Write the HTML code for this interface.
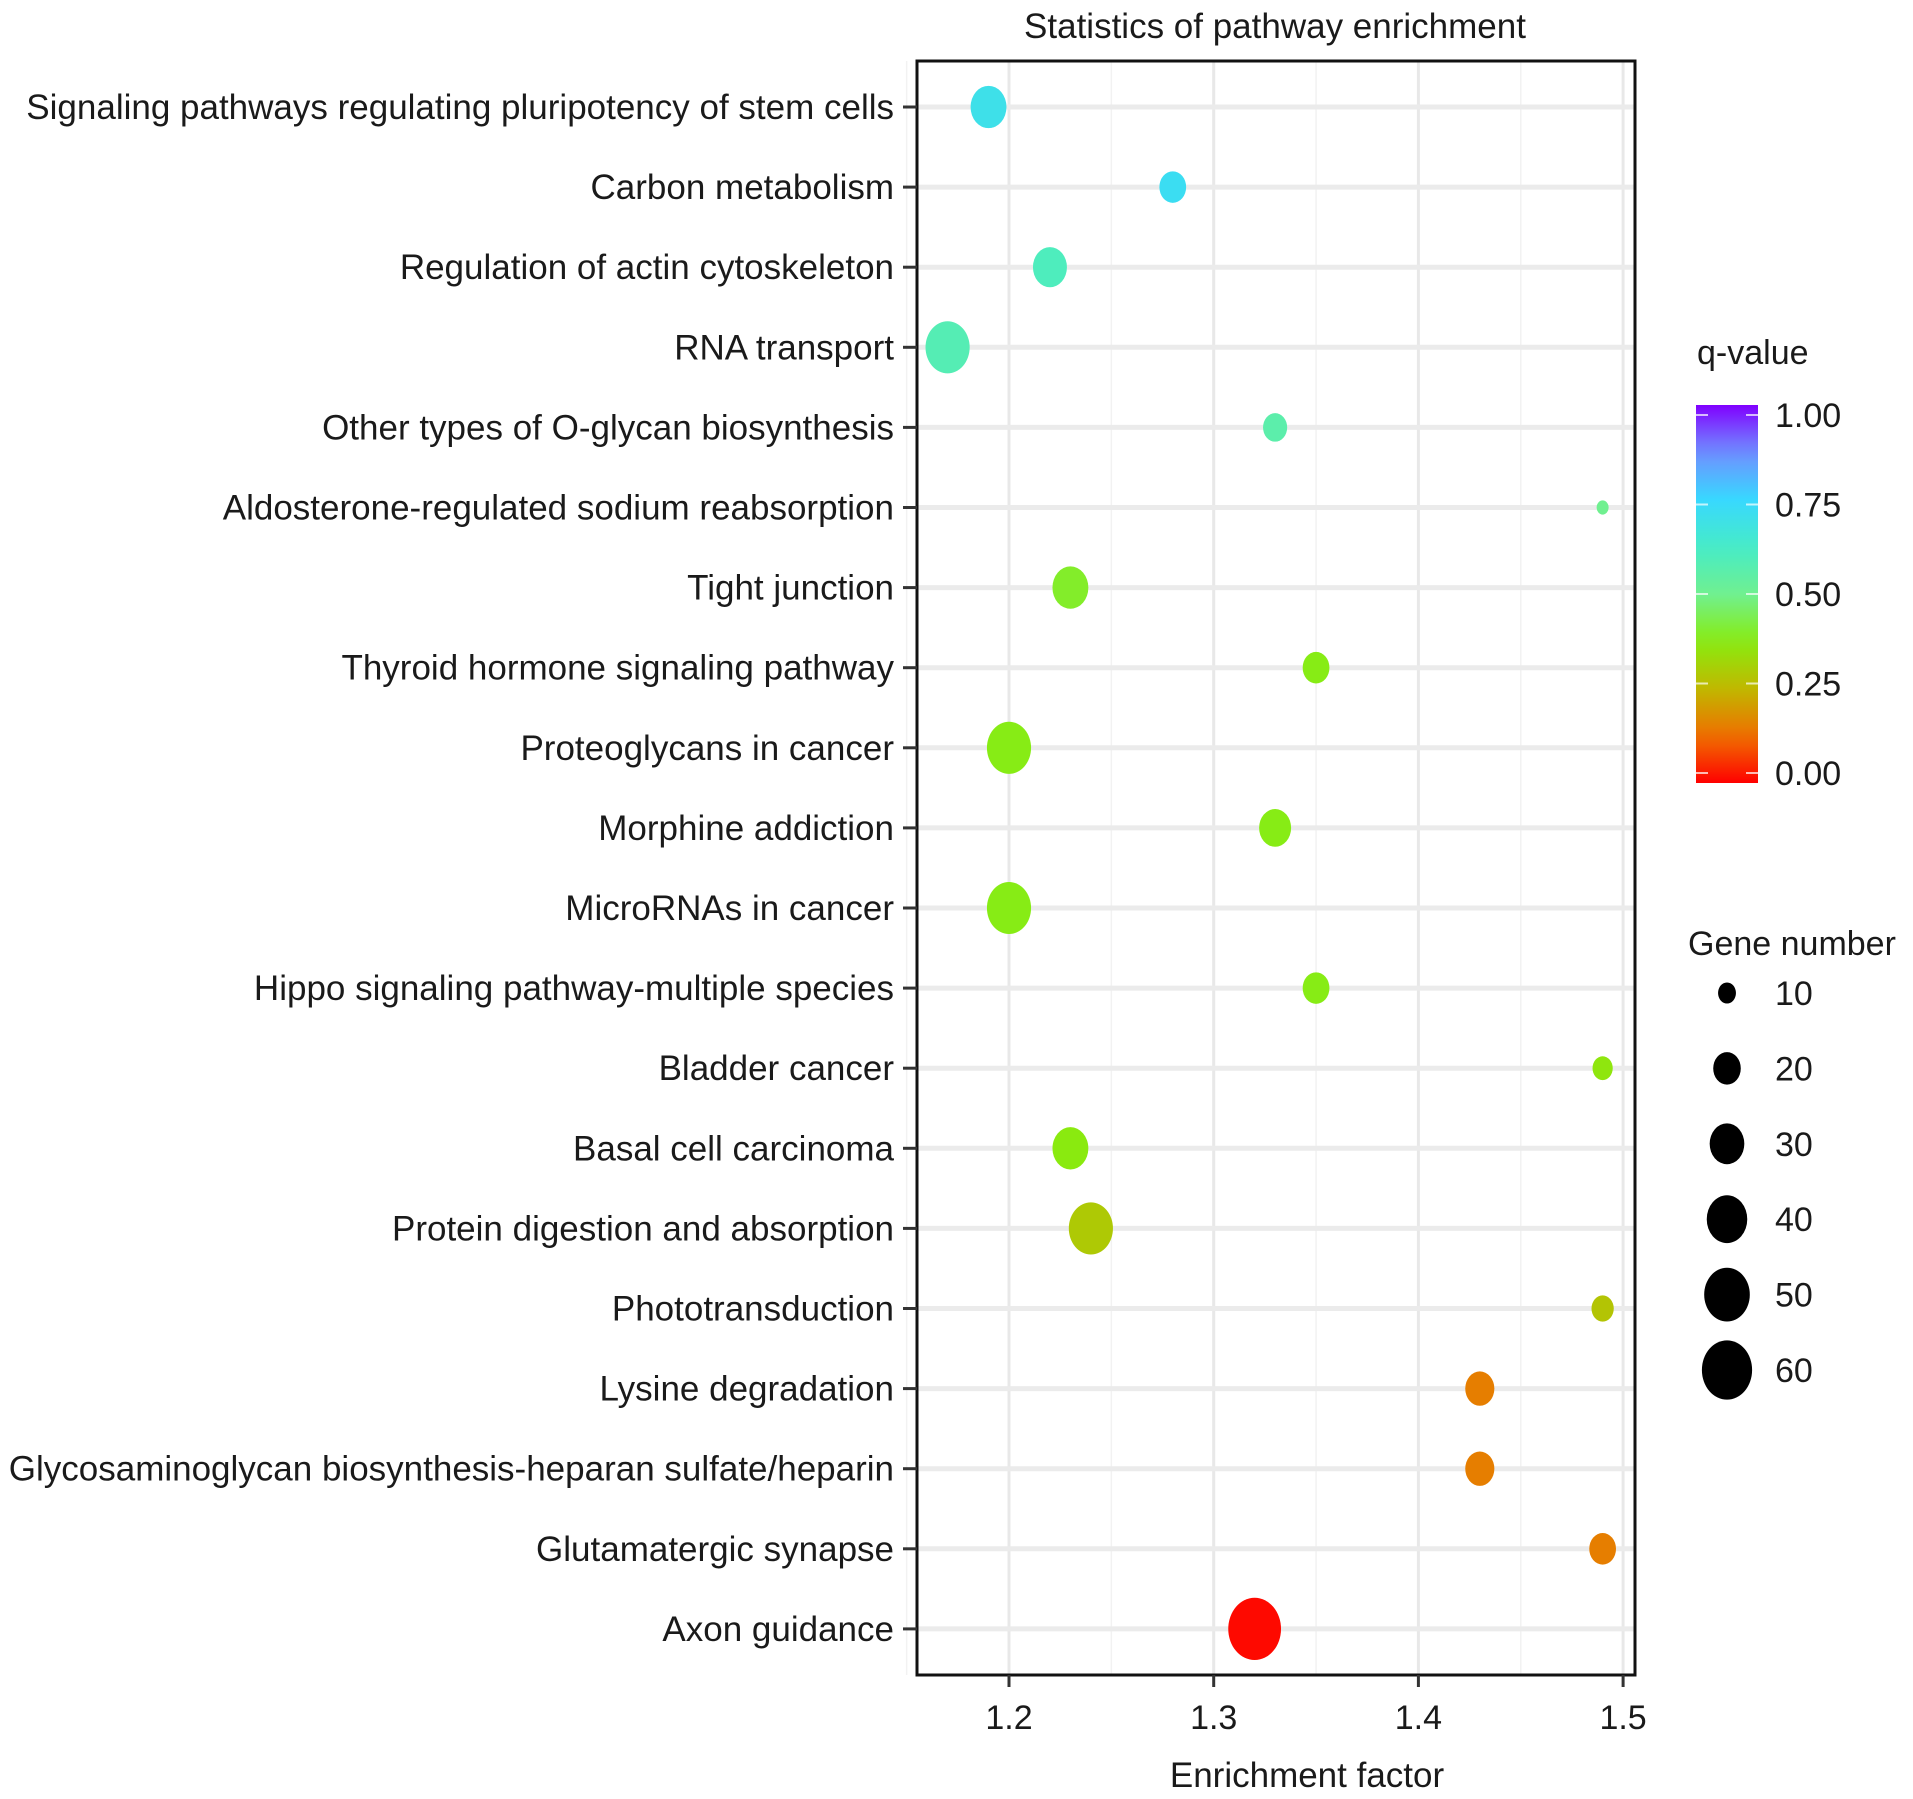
<!DOCTYPE html>
<html><head><meta charset="utf-8"><style>
html,body{margin:0;padding:0;background:#fff;}
svg{display:block;font-family:"Liberation Sans",Arial,sans-serif;}
</style></head><body>
<svg id="chart" width="1913" height="1799" viewBox="0 0 1913 1799" xmlns="http://www.w3.org/2000/svg">
<text x="1275" y="38" font-size="35" text-anchor="middle" fill="#1a1a1a">Statistics of pathway enrichment</text>
<text x="1307" y="1787" font-size="35" text-anchor="middle" fill="#1a1a1a">Enrichment factor</text>
<g id="grid"></g>
<g id="bubbles"></g>
<g id="axes"></g>
<defs><linearGradient id="qgrad" x1="0" y1="1" x2="0" y2="0"></linearGradient></defs>
<g id="legend"></g>
</svg>
<script>
const categories = ["Signaling pathways regulating pluripotency of stem cells","Carbon metabolism","Regulation of actin cytoskeleton","RNA transport","Other types of O-glycan biosynthesis","Aldosterone-regulated sodium reabsorption","Tight junction","Thyroid hormone signaling pathway","Proteoglycans in cancer","Morphine addiction","MicroRNAs in cancer","Hippo signaling pathway-multiple species","Bladder cancer","Basal cell carcinoma","Protein digestion and absorption","Phototransduction","Lysine degradation","Glycosaminoglycan biosynthesis-heparan sulfate/heparin","Glutamatergic synapse","Axon guidance"];
const enrichment = [1.19,1.28,1.22,1.17,1.33,1.49,1.23,1.35,1.20,1.33,1.20,1.35,1.49,1.23,1.24,1.49,1.43,1.43,1.49,1.32];
const geneCount = [32,19,29,47,16,6,32,19,47,26,47,19,12,32,47,14,22,22,19,66];
const qValue = [0.70,0.72,0.60,0.58,0.56,0.50,0.40,0.38,0.38,0.38,0.38,0.38,0.36,0.37,0.29,0.28,0.15,0.15,0.15,0.01];
const xTicks = [1.2,1.3,1.4,1.5];
const xMinor = [1.15,1.25,1.35,1.45];
const qTicks = [1.00,0.75,0.50,0.25,0.00];
const sizeTicks = [10,20,30,40,50,60];

const NS="http://www.w3.org/2000/svg";
function mk(tag, attrs, parent){const e=document.createElementNS(NS,tag);for(const k in attrs)e.setAttribute(k,attrs[k]);parent.appendChild(e);return e;}
const L=917,R=1635,T=61,B=1675;
const xs=v=>1009+(v-1.2)*2047;
const ys=i=>107+i*80.1;
const rx=n=>Math.sqrt(Math.max(4,11*n-30));
const ASP=1.18;
const stops=[[0,[255,0,0]],[0.125,[240,112,0]],[0.25,[192,184,0]],[0.375,[136,236,16]],[0.5,[112,240,144]],[0.625,[70,236,200]],[0.75,[56,216,255]],[0.875,[112,144,255]],[1,[128,0,255]]];
function qcol(q){for(let i=0;i<stops.length-1;i++){const a=stops[i],b=stops[i+1];if(q<=b[0]){const t=(q-a[0])/(b[0]-a[0]);const c=a[1].map((v,j)=>Math.round(v+(b[1][j]-v)*t));return `rgb(${c})`;}}return 'rgb(128,0,255)';}

const grid=document.getElementById('grid');
mk('rect',{x:L,y:T,width:R-L,height:B-T,fill:'#fff'},grid);
xMinor.forEach(v=>{const l=mk('line',{x1:xs(v),x2:xs(v),y1:T,y2:B,stroke:'#f2f2f2','stroke-width':1.5},grid);

});
xTicks.forEach(v=>{const l=mk('line',{x1:xs(v),x2:xs(v),y1:T,y2:B,stroke:'#e8e8e8','stroke-width':3},grid);

});
categories.forEach((c,i)=>{const l=mk('line',{x1:L,x2:R,y1:ys(i),y2:ys(i),stroke:'#ebebeb','stroke-width':5},grid);

});

const bub=document.getElementById('bubbles');
categories.forEach((c,i)=>{const r=rx(geneCount[i]);
const e=mk('ellipse',{cx:xs(enrichment[i]),cy:ys(i),rx:r,ry:r*ASP,fill:qcol(qValue[i])},bub);

});

const ax=document.getElementById('axes');
mk('rect',{x:L,y:T,width:R-L,height:B-T,fill:'none',stroke:'#111','stroke-width':3},ax);
categories.forEach((c,i)=>{mk('line',{x1:903,x2:L,y1:ys(i),y2:ys(i),stroke:'#333','stroke-width':3},ax);
const t=mk('text',{x:894,y:ys(i)+12,'font-size':35,'text-anchor':'end',fill:'#1a1a1a'},ax);t.textContent=c;

});
xTicks.forEach(v=>{mk('line',{x1:xs(v),x2:xs(v),y1:B,y2:B+12,stroke:'#333','stroke-width':3},ax);
const t=mk('text',{x:xs(v),y:1729,'font-size':34,'text-anchor':'middle',fill:'#1a1a1a'},ax);t.textContent=v.toFixed(1);

});

const g=document.getElementById('qgrad');
for(let k=0;k<=20;k++){const q=k/20;mk('stop',{offset:q,'stop-color':qcol(q)},g);}
const lg=document.getElementById('legend');
const qt=mk('text',{x:1697,y:364,'font-size':34,fill:'#1a1a1a'},lg);qt.textContent='q-value';


const qy=q=>773-q*358;
const cb=mk('rect',{x:1696,y:405,width:62,height:378,fill:'url(#qgrad)'},lg);


qTicks.forEach(q=>{mk('line',{x1:1696,x2:1708,y1:qy(q),y2:qy(q),stroke:'#fff','stroke-width':2,opacity:0.7},lg);
mk('line',{x1:1746,x2:1758,y1:qy(q),y2:qy(q),stroke:'#fff','stroke-width':2,opacity:0.7},lg);
const t=mk('text',{x:1775,y:qy(q)+12,'font-size':34,fill:'#1a1a1a'},lg);t.textContent=q.toFixed(2);

});
const gt=mk('text',{x:1688,y:955,'font-size':34,fill:'#1a1a1a'},lg);gt.textContent='Gene number';


sizeTicks.forEach((n,i)=>{const cy=993+i*75.4;const r=rx(n);
const e=mk('ellipse',{cx:1727,cy:cy,rx:r,ry:r*ASP,fill:'#000'},lg);


const t=mk('text',{x:1775,y:cy+12,'font-size':34,fill:'#1a1a1a'},lg);t.textContent=n;

});
</script>
</body></html>
